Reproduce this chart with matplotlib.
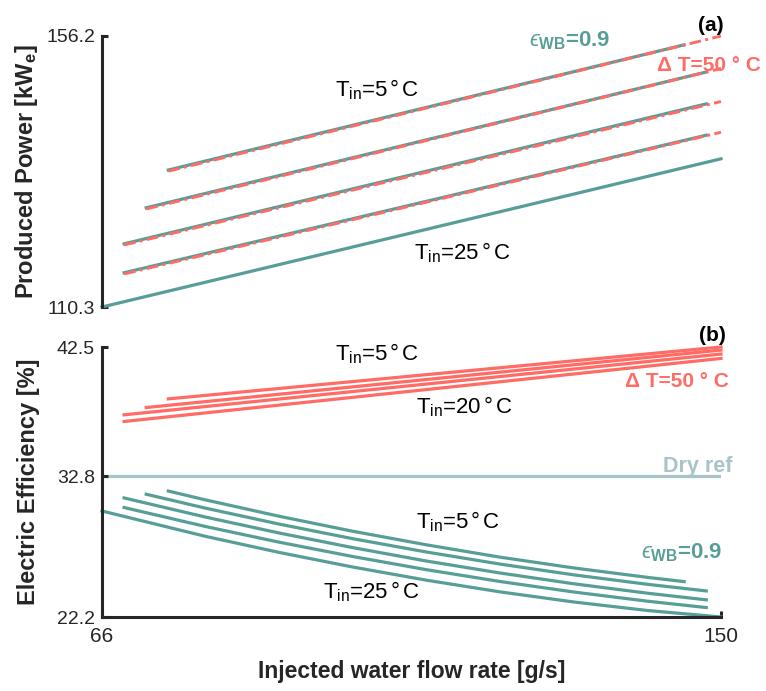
import matplotlib
matplotlib.use('Agg')
from matplotlib import pyplot as plt

# --- data ---
# (a) produced power, wet cooling (eps_WB = 0.9), Tin = 5, 10, 15, 20, 25 C
wet_power_flow = [[75, 145], [72, 148], [69, 148], [69, 148], [66, 150]]
wet_power = [[133.5, 154.7], [127.1, 150.1], [121.0, 144.7], [116.1, 139.4], [110.3, 135.4]]
# (a) produced power, dT = 50 C case, Tin = 5, 10, 15, 20 C
dt_power_flow = [[75, 150], [72, 150], [69, 150], [69, 150]]
dt_power = [[133.3, 156.2], [126.9, 150.7], [120.8, 145.1], [115.9, 139.9]]

# (b) electric efficiency, dT = 50 C case
dt_eff_flow = [[75, 150], [72, 150], [69, 150], [69, 150]]
dt_eff = [[38.6, 42.5], [37.95, 42.27], [37.4, 41.97], [36.9, 41.64]]
# (b) electric efficiency, wet cooling
wet_eff_flow = [[75, 80, 90, 100, 110, 120, 130, 140, 145],
                [72, 80, 90, 100, 110, 120, 130, 140, 148],
                [69, 80, 90, 100, 110, 120, 130, 140, 148],
                [69, 80, 90, 100, 110, 120, 130, 140, 148],
                [66, 80, 90, 100, 110, 120, 130, 140, 150]]
wet_eff = [[31.67, 31.01, 29.78, 28.65, 27.63, 26.70, 25.89, 25.18, 24.86],
           [31.43, 30.39, 29.19, 28.09, 27.09, 26.18, 25.37, 24.66, 24.16],
           [31.15, 29.72, 28.52, 27.42, 26.41, 25.51, 24.70, 23.99, 23.49],
           [30.43, 29.01, 27.83, 26.75, 25.76, 24.87, 24.08, 23.39, 22.91],
           [30.17, 28.27, 27.06, 25.96, 24.97, 24.09, 23.33, 22.69, 22.20]]
dry_ref_flow = [66, 150]
dry_ref_eff = [32.8, 32.8]

x_ticks = [66, 150]
power_ticks = [110.3, 156.2]
eff_ticks = [22.2, 32.8, 42.5]

TEAL = '#579e99'
RED = '#ff6b65'
DRY = '#a9c3cb'
DARK = '#262626'

plt.rcParams['font.family'] = ['Liberation Sans', 'DejaVu Sans']
plt.rcParams['mathtext.fontset'] = 'custom'
plt.rcParams['mathtext.rm'] = 'Liberation Sans'
plt.rcParams['mathtext.it'] = 'Liberation Sans:italic'
plt.rcParams['mathtext.bf'] = 'Liberation Sans:bold'
plt.rcParams['mathtext.fallback'] = 'stixsans'

EPS_LABEL = '$\u03f5_{\\mathbf{WB}}$=0.9'


def style_axis(ax, show_bottom):
    for s in ['top', 'right']:
        ax.spines[s].set_visible(False)
    for s in ['left', 'bottom']:
        ax.spines[s].set_linewidth(2.2)
        ax.spines[s].set_color(DARK)
    if not show_bottom:
        ax.spines['bottom'].set_visible(False)
        ax.set_xticks([])
    ax.tick_params(direction='in', length=4, width=2.2, color=DARK,
                   labelsize=14, labelcolor=DARK, pad=5)


def tin(t):
    return r'T$_{\rm in}$=' + str(t) + r'$\,$°$\,$C'


fig = plt.figure(figsize=(7.66, 6.91), dpi=100)
ax1 = fig.add_axes([102 / 766, 1 - 307 / 691, 619 / 766, 271 / 691])
ax2 = fig.add_axes([102 / 766, 1 - 617 / 691, 619 / 766, 270 / 691])

# (a) produced power
for f, p in zip(wet_power_flow, wet_power):
    ax1.plot(f, p, color=TEAL, lw=2.3, clip_on=False, zorder=2)
for f, p in zip(dt_power_flow, dt_power):
    ax1.plot(f, p, color=RED, lw=2.1, dashes=(4, 1.5, 1, 1.5),
             clip_on=False, zorder=3)

ax1.set_xlim(66, 150)
ax1.set_ylim(power_ticks[0], power_ticks[-1])
ax1.set_yticks(power_ticks)
ax1.set_yticklabels([str(v) for v in power_ticks])
style_axis(ax1, False)
ax1.set_ylabel(r'Produced Power [kW$_{\mathbf{e}}$]', fontsize=17,
               fontweight='bold', color=DARK)
ax1.yaxis.set_label_coords(-0.10, 0.5)

ax1.text(97.6, 145.9, tin(5), fontsize=16, color='black')
ax1.text(108.3, 118.3, tin(25), fontsize=16, color='black')
ax1.text(124.0, 154.4, EPS_LABEL, fontsize=16, fontweight='bold', color=TEAL)
ax1.text(141.3, 150.3, 'Δ T=50 ° C', fontsize=15, fontweight='bold',
         color=RED)
ax1.text(1.005, 1.037, '(a)', transform=ax1.transAxes, ha='right',
         va='center', fontsize=15, fontweight='bold')

# (b) electric efficiency
ax2.plot(dry_ref_flow, dry_ref_eff, color=DRY, lw=2.3, zorder=1)
for f, e in zip(dt_eff_flow, dt_eff):
    ax2.plot(f, e, color=RED, lw=2.3, clip_on=False, zorder=2)
for f, e in zip(wet_eff_flow, wet_eff):
    ax2.plot(f, e, color=TEAL, lw=2.3, clip_on=False, zorder=2)

ax2.set_xlim(x_ticks[0], x_ticks[-1])
ax2.set_ylim(eff_ticks[0], eff_ticks[-1])
ax2.set_xticks(x_ticks)
ax2.set_xticklabels([str(v) for v in x_ticks])
ax2.set_yticks(eff_ticks)
ax2.set_yticklabels([str(v) for v in eff_ticks])
style_axis(ax2, True)
ax2.tick_params(axis='x', labelsize=15, pad=7)
ax2.set_ylabel('Electric Efficiency [%]', fontsize=17, fontweight='bold',
               color=DARK)
ax2.yaxis.set_label_coords(-0.10, 0.5)
ax2.set_xlabel('Injected water flow rate [g/s]', fontsize=16.5,
               fontweight='bold', color=DARK)
ax2.xaxis.set_label_coords(0.5, -0.16)

ax2.text(97.6, 41.47, tin(5), fontsize=16, color='black')
ax2.text(137.0, 39.5, 'Δ T=50 ° C', fontsize=15, fontweight='bold',
         color=RED)
ax2.text(108.6, 37.5, tin(20), fontsize=16, color='black')
ax2.text(142.1, 33.1, 'Dry ref', fontsize=15.5, fontweight='bold', color=DRY)
ax2.text(108.6, 28.87, tin(5), fontsize=16, color='black')
ax2.text(139.1, 26.6, EPS_LABEL, fontsize=16, fontweight='bold', color=TEAL)
ax2.text(96.0, 23.6, tin(25), fontsize=16, color='black')
ax2.text(1.008, 1.043, '(b)', transform=ax2.transAxes, ha='right',
         va='center', fontsize=15, fontweight='bold')

fig.savefig('out.png', dpi=100)
